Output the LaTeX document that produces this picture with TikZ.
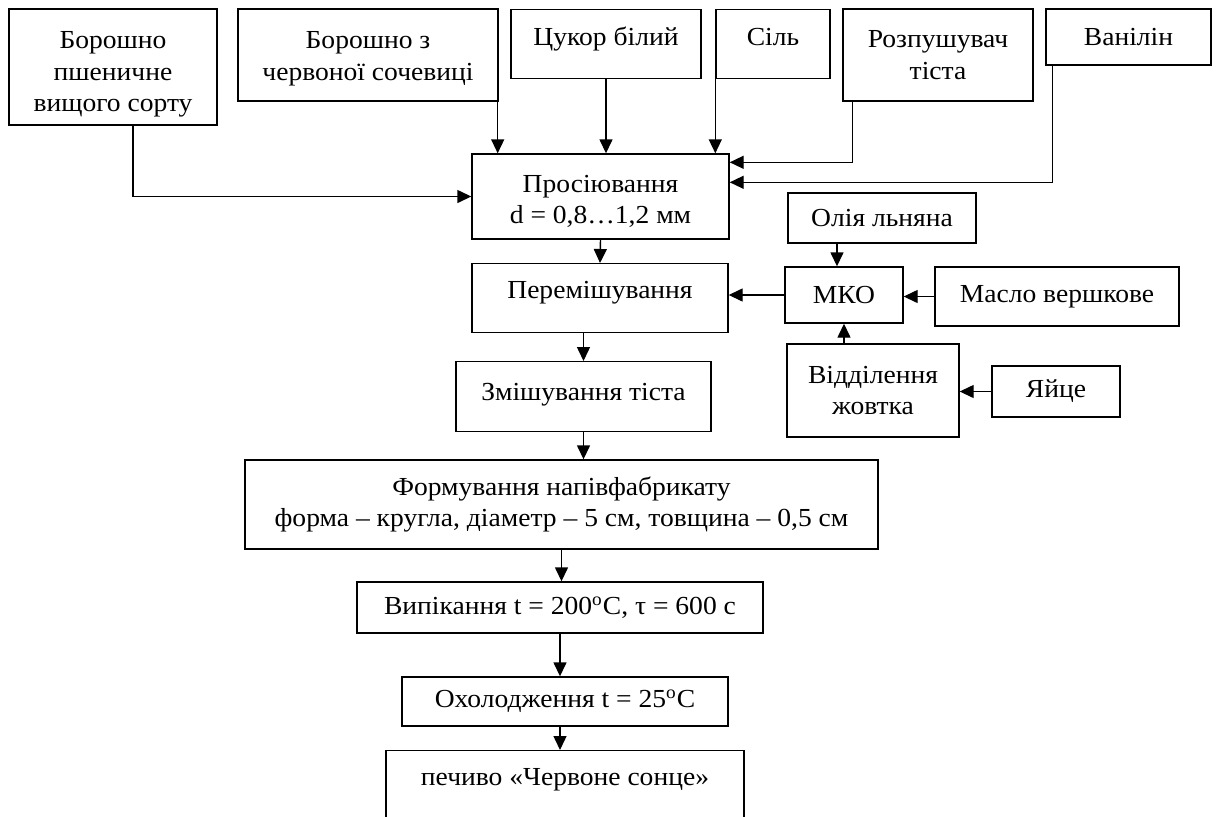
\documentclass[tikz,border=0pt]{standalone}
\usepackage{fontspec}
\setmainfont{Liberation Serif}[FakeStretch=1.06]
\usepackage{tikz}
\usetikzlibrary{arrows.meta,calc}

\tikzset{
  stagebox/.style={draw, line width=0.7pt, inner sep=0pt, align=center,
    font=\fontsize{13}{15.8}\selectfont},
  flow/.style={line width=0.7pt, -{Triangle[length=7pt,width=6.5pt]}},
}

\begin{document}
\begin{tikzpicture}[x=0.5pt, y=-0.5pt]
  \useasboundingbox (0,0) rectangle (1217,816);
  \clip (0,0) rectangle (1217,816);

  % Raw materials
  \node[stagebox, minimum width=104pt, minimum height=58pt] (flour) at (113,67)
    {\rule{0pt}{16pt}Борошно\\пшеничне\\вищого сорту};
  \node[stagebox, minimum width=130pt, minimum height=46pt] (lentil) at (368,55)
    {\rule{0pt}{12pt}Борошно з\\червоної сочевиці};
  \node[stagebox, minimum width=95pt, text height=18pt, text depth=16.5pt,
    anchor=north] (sugar) at (606,9) {Цукор білий};
  \node[stagebox, minimum width=57pt, text height=18pt, text depth=16.5pt,
    anchor=north] (salt) at (773,9) {Сіль};
  \node[stagebox, minimum width=95pt, minimum height=46pt] (leaven) at (938,55)
    {Розпушувач\\тіста};
  \node[stagebox, minimum width=82.5pt, minimum height=28pt] (vanilla) at (1128.5,37)
    {Ванілін};

  % Main line
  \node[stagebox, minimum width=128.5pt, minimum height=42.5pt] (sift) at (600.5,196.5)
    {\rule{0pt}{13.5pt}Просіювання\\d = 0,8…1,2 мм};
  \node[stagebox, minimum width=128pt, text height=17.5pt, text depth=17pt,
    anchor=north] (mix) at (600,263) {Перемішування};
  \node[stagebox, minimum width=127.5pt, text height=19.5pt, text depth=15.5pt,
    anchor=north] (dough) at (583.5,361) {Змішування тіста};
  \node[stagebox, minimum width=316.5pt, minimum height=44.5pt] (shape) at (561.5,504.5)
    {Формування напівфабрикату\\форма – кругла, діаметр – 5 см, товщина – 0,5 см};
  \node[stagebox, minimum width=203pt, minimum height=25.5pt] (bake) at (560,607.5)
    {Випікання t = 200\textsuperscript{o}C, τ = 600 с};
  \node[stagebox, minimum width=163pt, minimum height=24.5pt] (cool) at (565,701.5)
    {Охолодження t = 25\textsuperscript{o}C};
  \node[stagebox, minimum width=179pt, text height=17.5pt, text depth=40pt,
    anchor=north] (cookie) at (565,750) {печиво «Червоне сонце»};

  % Fat-egg emulsion branch
  \node[stagebox, minimum width=94pt, minimum height=25pt] (oil) at (882,218)
    {Олія льняна};
  \node[stagebox, minimum width=59pt, minimum height=28pt] (mko) at (844,295)
    {МКО};
  \node[stagebox, minimum width=122pt, minimum height=29.5pt] (butter) at (1057,296.5)
    {Масло вершкове};
  \node[stagebox, minimum width=86pt, minimum height=46.5pt] (yolk) at (873,390.5)
    {Відділення\\жовтка};
  \node[stagebox, minimum width=64pt, minimum height=25.5pt] (egg) at (1056,391.5)
    {Яйце};

  % Inputs to sifting
  \draw[flow] ([xshift=10pt]flour.south) |- (sift.west);
  \draw[flow] ([xshift=-0.5pt]lentil.south east)
    -- ([xshift=-0.5pt]lentil.south east |- sift.north);
  \draw[flow] (sugar.south) -- (sugar.south |- sift.north);
  \draw[flow] (salt.south west) -- (salt.south west |- sift.north);
  \draw[flow] ([xshift=5pt]leaven.south west) |- ([yshift=-4.5pt]sift.north east);
  \draw[flow] ([xshift=3.5pt]vanilla.south west) |- ([yshift=-14.5pt]sift.north east);

  % Emulsion
  \draw[flow] ([xshift=-3.5pt]mko.north |- oil.south) -- ([xshift=-3.5pt]mko.north);
  \draw[flow] (butter.west) -- (butter.west -| mko.east);
  \draw[flow] (egg.west) -- (egg.west -| yolk.east);
  \draw[flow] (mko.south |- yolk.north) -- (mko.south);
  \draw[flow] (mko.west) -- (mko.west -| mix.east);

  % Process flow
  \draw[flow] (sift.south) -- (mix.north);
  \draw[flow] (dough.north |- mix.south) -- (dough.north);
  \draw[flow] (dough.south) -- (dough.south |- shape.north);
  \draw[flow] (shape.south) -- (shape.south |- bake.north);
  \draw[flow] (bake.south) -- (bake.south |- cool.north);
  \draw[flow] (bake.south |- cool.south) -- (bake.south |- cookie.north);
\end{tikzpicture}
\end{document}
